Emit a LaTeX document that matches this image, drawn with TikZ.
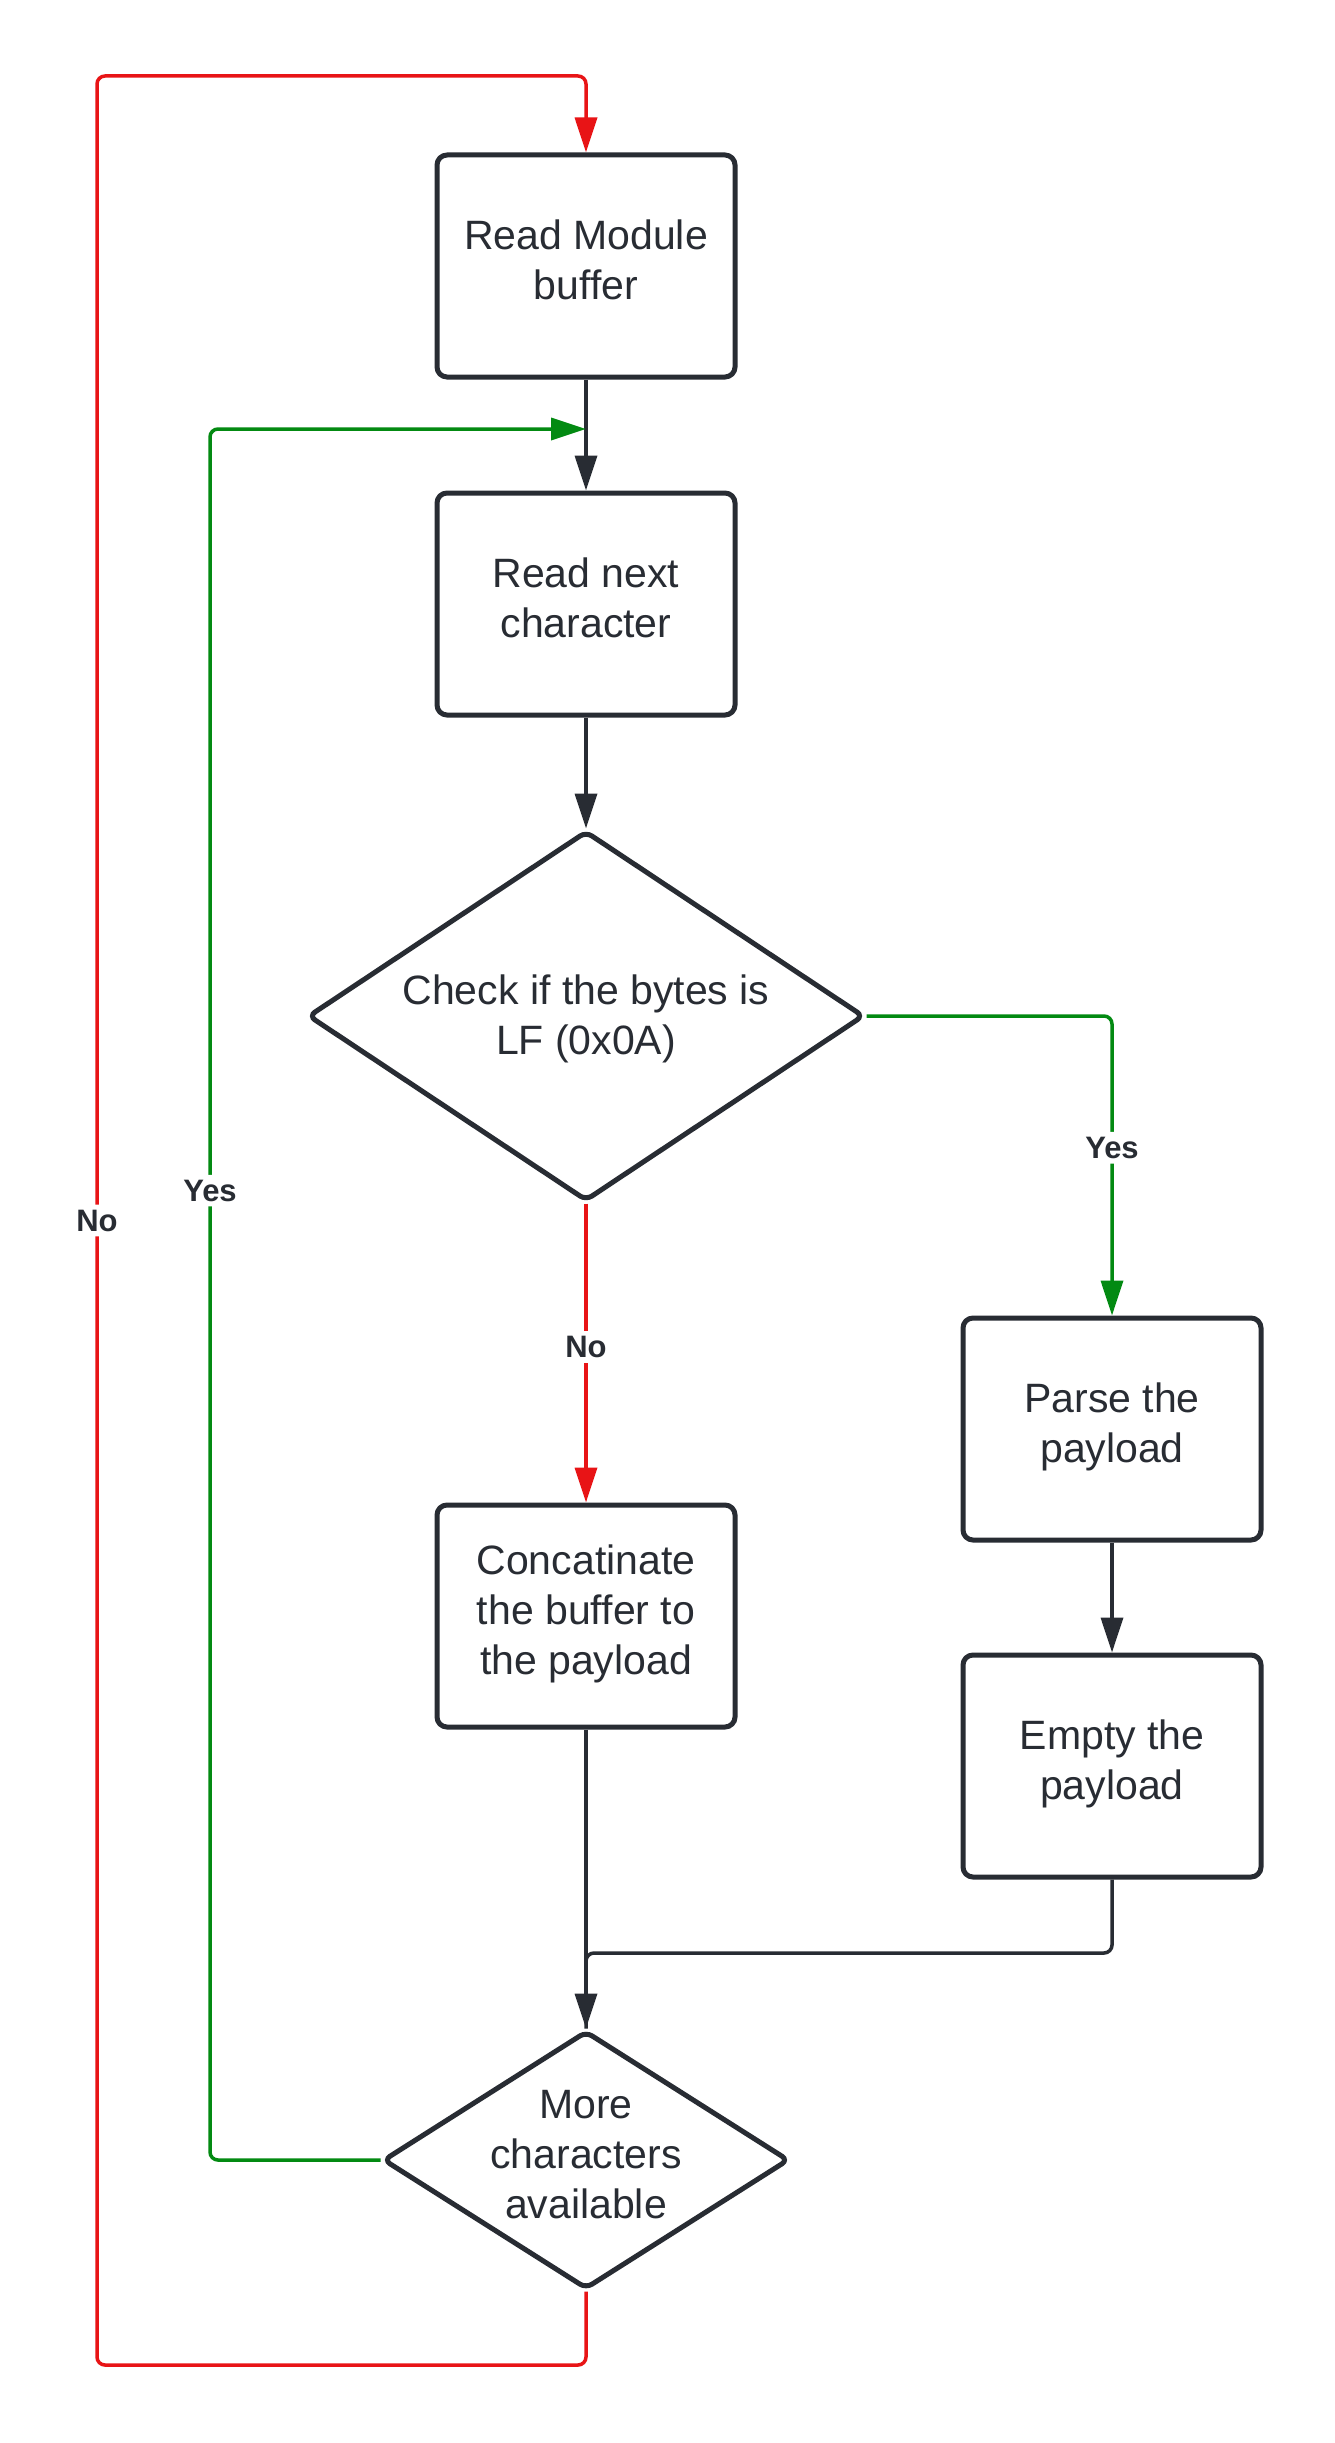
\documentclass[tikz,border=0pt]{standalone}
\usepackage{fontspec}
\setmainfont{Liberation Sans}
\usetikzlibrary{arrows.meta,shapes.geometric}
\definecolor{ink}{HTML}{282C33}
\definecolor{lnred}{HTML}{E81416}
\definecolor{lngreen}{HTML}{038A12}
\begin{document}
\begin{tikzpicture}[x=1pt,y=-1pt,
  procbox/.style={draw=ink, line width=5pt, rounded corners=10pt,
    minimum width=298pt, minimum height=222pt, inner sep=0pt, text depth=12pt,
    align=center, text=ink, font=\fontsize{41}{50}\selectfont},
  decbox/.style={diamond, draw=ink, line width=5pt, rounded corners=7pt, inner sep=0pt},
  dtext/.style={align=center, text=ink, font=\fontsize{41}{50}\selectfont, inner sep=0pt, text depth=12pt},
  conn/.style={line width=3.5pt, rounded corners=8pt, draw=#1},
  conn/.default=ink,
  tip/.style={-{Triangle[length=35pt,width=22pt]}},
  lbl/.style={fill=white, text=ink, font=\bfseries\fontsize{31}{31}\selectfont, inner sep=5pt}
]
\useasboundingbox[fill=white] (0,0) rectangle (1335,2443);

\node[procbox] (b1) at (586,266) {Read Module\\buffer};
\node[procbox] (b2) at (586,604) {Read next\\character};
\node[decbox, minimum width=556pt, minimum height=370pt] (d1) at (586,1016) {};
\node[dtext] (d1t) at (586,1021) {Check if the bytes is\\LF (0x0A)};
\node[procbox] (parse) at (1112,1429) {Parse the\\payload};
\node[procbox] (concat) at (586,1616) {Concatinate\\the buffer to\\the payload};
\node[procbox] (empty) at (1112,1766) {Empty the\\payload};
\node[decbox, minimum width=406pt, minimum height=258pt] (d2) at (586,2160) {};
\node[dtext] (d2t) at (586,2160) {More\\characters\\available};

\coordinate (gin) at (586,429);
\coordinate (gl) at (210,429);
\coordinate (m) at (586,1953);
\coordinate (rb) at (97,2365);
\coordinate (rt) at (97,76);

% black connectors
\draw[conn, tip] (b1.south) -- (b2.north);
\draw[conn, tip] (b2.south) -- (d1.north);
\draw[conn, tip] (parse.south) -- (empty.north);
\draw[conn, tip] (concat.south) -- (d2.north);
\draw[conn] (empty.south) |- (m) -- (d2.north);

% decision 1 branches
\draw[conn=lnred, tip] (d1.south) -- node[lbl, pos=0.48] {No} (concat.north);
\draw[conn=lngreen, tip] (d1.east) -| node[lbl, pos=0.72] {Yes} (parse.north);

% loop back: yes
\draw[conn=lngreen, tip] (d2.west) -| node[lbl, pos=0.78] {Yes} (gl) -- (gin);

% loop back: no
\draw[conn=lnred, tip] (d2.south) |- (rb) -- node[lbl, pos=0.5] {No} (rt) -| (b1.north);
\end{tikzpicture}
\end{document}
